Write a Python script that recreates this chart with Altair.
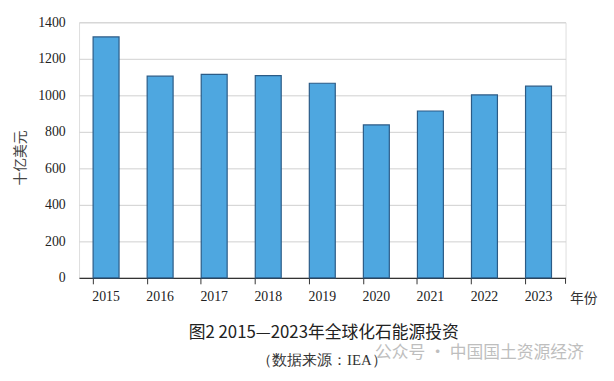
import altair as alt
import pandas as pd

years = ["2015", "2016", "2017", "2018", "2019", "2020", "2021", "2022", "2023"]
invest = [1320, 1105, 1115, 1108, 1066, 838, 914, 1002, 1050]

df = pd.DataFrame({"year": years, "value": invest})

W, H = 493, 259
serif = "Liberation Serif"
cjk = "Noto Sans CJK SC"

base = alt.Chart(df)

bars = base.mark_bar(color="#4EA7E0", stroke="#2B5B86", strokeWidth=1.2).encode(
    x=alt.X("year:N", sort=years,
            scale=alt.Scale(paddingInner=0.52, paddingOuter=0.26),
            axis=alt.Axis(title="年份", labelAngle=0, labelFont=serif, labelFontSize=14,
                          labelColor="#222", labelPadding=6, bandPosition=0,
                          tickColor="#333", tickSize=6, domainColor="#333", domainWidth=1.2,
                          titleFont=cjk, titleFontSize=14, titleFontWeight="normal",
                          titleColor="#333", titleAnchor="end", titleAlign="left",
                          titleX=W + 4, titleY=25, titleBaseline="alphabetic", grid=False)),
    y=alt.Y("value:Q", scale=alt.Scale(domain=[0, 1400]),
            axis=alt.Axis(title="十亿美元", values=[0, 200, 400, 600, 800, 1000, 1200, 1400],
                          format="d",
                          labelFont=serif, labelFontSize=14, labelColor="#222", labelPadding=14,
                          domain=False, ticks=False, gridColor="#CFCFCF", gridWidth=1,
                          titleFont=cjk, titleFontSize=14, titleFontWeight="normal",
                          titleColor="#444", titleX=-59, titleY=137,
                          titleAlign="center", titleBaseline="middle", titleAngle=270)),
)

end_tick = alt.Chart(pd.DataFrame({"a": [0]})).mark_rule(color="#333", strokeWidth=1).encode(
    x=alt.value(W), y=alt.value(H), y2=alt.value(H + 6)
)

caption = alt.Chart(pd.DataFrame({"t": ["图2 2015—2023年全球化石能源投资"]})).mark_text(
    font=cjk, fontSize=17, color="#222", align="center", baseline="middle"
).encode(text="t:N", x=alt.value(248), y=alt.value(315))

source = alt.Chart(pd.DataFrame({"t": ["（数据来源：IEA）"]})).mark_text(
    font=serif, fontSize=15, color="#333", align="center", baseline="middle"
).encode(text="t:N", x=alt.value(246), y=alt.value(342))

mark_wm = alt.Chart(pd.DataFrame({"t": ["公众号 · 中国国土资源经济"]})).mark_text(
    font=cjk, fontSize=17, color="#B8B8B8", align="left", baseline="middle", opacity=0.9
).encode(text="t:N", x=alt.value(300), y=alt.value(335))

chart = alt.layer(bars, end_tick, caption, source, mark_wm).properties(
    width=W, height=H,
    autosize=alt.AutoSizeParams(type="none"),
    padding={"left": 72, "top": 12, "right": 41, "bottom": 102},
).configure_view(stroke=None).configure(background="white")

chart.save("out.html", embed_options={"renderer": "svg", "actions": False})
